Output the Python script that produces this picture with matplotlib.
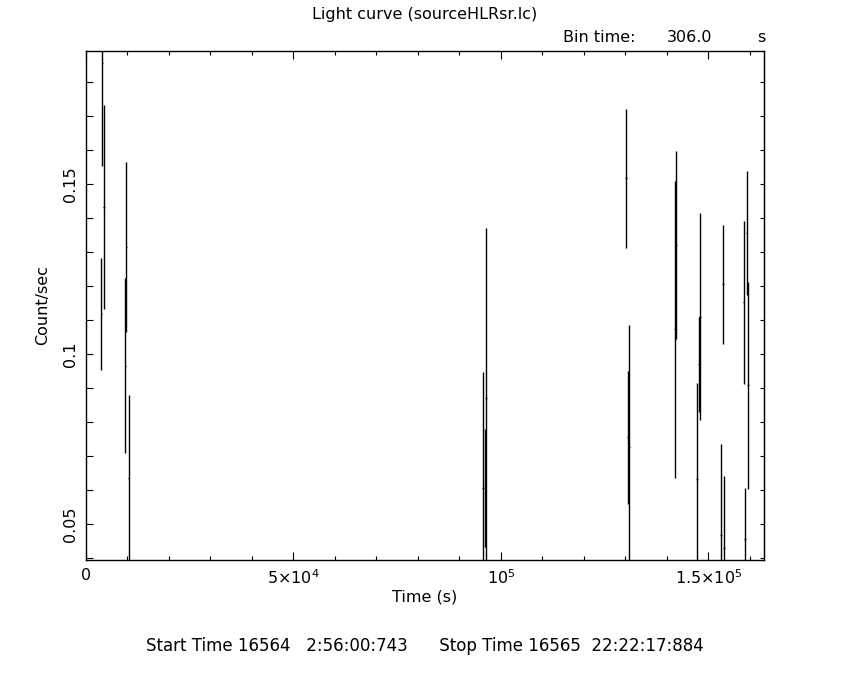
import numpy as np
import matplotlib.pyplot as plt
from matplotlib.ticker import MultipleLocator, FixedLocator

# light curve bins (s since start), rate (count/s) and 1-sigma errors
time = [3930, 4340, 3690, 9710, 9470, 10290,
        96460, 95660, 96220,
        130190, 131010, 130680,
        142340, 142000, 148020, 147780, 147300,
        153570, 153080, 153810,
        158550, 159280, 159590, 158870]
rate = [0.1856, 0.1433, 0.1118, 0.1314, 0.0966, 0.0635,
        0.0870, 0.0607, 0.0606,
        0.1517, 0.0726, 0.0755,
        0.1321, 0.1073, 0.1110, 0.0970, 0.0631,
        0.1205, 0.0467, 0.0429,
        0.1152, 0.1355, 0.0908, 0.0456]
error = [0.0303, 0.0300, 0.0165, 0.0250, 0.0258, 0.0245,
         0.0500, 0.0340, 0.0174,
         0.0204, 0.0360, 0.0195,
         0.0276, 0.0437, 0.0305, 0.0140, 0.0284,
         0.0175, 0.0268, 0.0212,
         0.0239, 0.0183, 0.0304, 0.0151]
bin_time = 306.0

xticks = [0, 5e4, 1e5, 1.5e5]
xticklabels = ['0', r'$5{\times}10^4$', r'$10^5$', r'$1.5{\times}10^5$']
yticks = [0.05, 0.1, 0.15]
yticklabels = ['0.05', '0.1', '0.15']

plt.rcParams['mathtext.fontset'] = 'dejavusans'

fig = plt.figure(figsize=(8.5, 6.8), dpi=100)
ax = fig.add_axes([86/850, 120/680, 678/850, 509/680])

ax.errorbar(time, rate, yerr=error, xerr=bin_time/2, fmt='none',
            ecolor='black', elinewidth=1.0, capsize=0)

ax.set_xlim(0, 163450)
ax.set_ylim(0.0394, 0.1891)

ax.xaxis.set_major_locator(FixedLocator(xticks))
ax.xaxis.set_minor_locator(MultipleLocator(1e4))
ax.set_xticklabels(xticklabels)
ax.yaxis.set_major_locator(FixedLocator(yticks))
ax.yaxis.set_minor_locator(MultipleLocator(0.01))
ax.set_yticklabels(yticklabels, rotation=90, va='center')

ax.tick_params(axis='x', which='major', direction='in', length=6, width=0.8,
               top=True, labelsize=11.5, pad=6)
ax.tick_params(axis='x', which='minor', direction='in', length=3, width=0.8, top=True)
ax.tick_params(axis='y', which='both', direction='in', length=5, width=0.8,
               labelsize=11.5, pad=6)

# right-hand ticks are shorter
sec = ax.secondary_yaxis('right')
sec.yaxis.set_major_locator(FixedLocator(yticks))
sec.yaxis.set_minor_locator(MultipleLocator(0.01))
sec.tick_params(which='both', direction='in', length=3, width=0.8, labelright=False)

for s in ax.spines.values():
    s.set_linewidth(1.0)

ax.set_xlabel('Time (s)', fontsize=11.5, labelpad=2)
ax.set_ylabel('Count/sec', fontsize=11.5, labelpad=9)

fig.text(0.5, 1 - 15/680, 'Light curve (sourceHLRsr.lc)', ha='center', va='center', fontsize=11.5)
fig.text(563/850, 1 - 38/680, 'Bin time:', ha='left', va='center', fontsize=11.5)
fig.text(712/850, 1 - 38/680, '%.1f' % bin_time, ha='right', va='center', fontsize=11.5)
fig.text(757/850, 1 - 38/680, 's', ha='left', va='center', fontsize=11.5)
fig.text(0.5, 1 - 646/680, 'Start Time 16564   2:56:00:743      Stop Time 16565  22:22:17:884',
         ha='center', va='center', fontsize=12)

fig.savefig('out.png', dpi=100)
